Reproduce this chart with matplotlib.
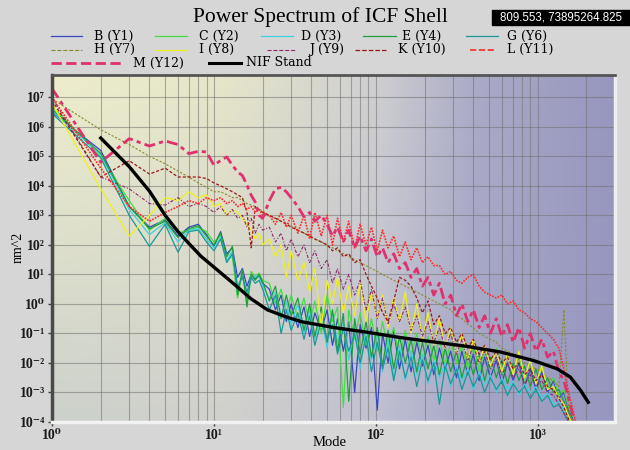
import numpy as np
import matplotlib
matplotlib.use("Agg")
import matplotlib.pyplot as plt
from matplotlib.lines import Line2D
from matplotlib.patches import Rectangle
from matplotlib.ticker import FixedLocator, FuncFormatter, LogLocator, NullFormatter

modes = list(range(1, 21)) + [
    22, 24, 26, 28, 30, 33, 36, 39, 42, 46,
    50, 54, 58, 63, 68, 74, 80, 87, 94, 102,
    110, 119, 129, 140, 152, 165, 179, 194, 210, 228,
    247, 268, 290, 315, 340, 370, 400, 435, 470, 510,
    555, 600, 650, 705, 765, 830, 900, 975, 1060, 1150,
    1250, 1350, 1450, 1550, 1650, 1750, 1850]

# exponents (log10 of nm^2)
b_exp = [6.5, 5.2, 3.3, 2.6, 2.85, 2.3, 2.6, 2.7, 2.35, 1.95,
         2.45, 1.7, 1.9, 0.9, 1.2, 0.6, 1.0, 0.85, 0.95, 0.7,
         0.5, -0.2, 0.3, -0.6, 0.0, -0.8, -0.1, -1.1, -0.3, -0.9,
         -0.2, -1.4, -0.5, -1.6, -0.6, -3.0, -0.7, -1.5, -0.8, -3.6,
         -1.0, -2.0, -0.9, -2.2, -1.2, -2.3, -1.3, -2.1, -1.4, -2.4,
         -1.5, -2.2, -1.6, -2.5, -1.6, -2.4, -1.7, -2.6, -1.8, -2.5,
         -1.9, -2.7, -2.0, -2.6, -2.0, -2.8, -2.2, -2.9, -2.3, -3.0,
         -2.6, -3.2, -3.0, -3.6, -3.9, -4.3, -4.8]
c_exp = [6.7, 5.0, 3.5, 2.5, 2.9, 2.4, 2.5, 2.6, 2.45, 2.1,
         2.3, 1.5, 1.6, 0.2, 1.1, 0.0, 1.1, 0.9, 1.05, 0.8,
         0.7, 0.0, 0.5, -0.3, 0.3, -0.5, 0.2, -0.7, 0.1, -1.0,
         0.3, -0.6, -0.1, -3.5, -0.2, -1.2, -0.3, -1.4, -0.5, -1.6,
         -0.6, -1.5, -0.8, -1.9, -0.9, -1.8, -1.0, -2.0, -1.1, -1.9,
         -1.2, -2.1, -1.3, -2.0, -1.4, -2.2, -1.4, -2.3, -1.5, -2.2,
         -1.5, -2.4, -1.7, -2.3, -1.8, -2.6, -1.9, -2.7, -2.1, -2.9,
         -2.5, -3.1, -2.9, -3.5, -3.8, -4.2, -4.7]
d_exp = [6.55, 5.05, 3.2, 2.35, 2.75, 2.1, 2.5, 2.55, 2.2, 1.9,
         2.25, 1.45, 1.8, 0.5, 1.0, 0.3, 0.8, 0.95, 0.9, 0.6,
         0.2, 0.4, -0.4, 0.1, -0.7, 0.0, -1.0, -0.2, -1.2, -0.4,
         -1.5, -0.3, -1.3, -0.6, -1.9, -0.8, -2.2, -0.9, -1.9, -1.0,
         -2.3, -1.2, -2.5, -1.4, -2.6, -1.6, -2.4, -1.7, -2.7, -1.9,
         -2.5, -2.0, -2.8, -2.1, -2.6, -2.2, -2.9, -2.3, -2.7, -2.4,
         -3.0, -2.5, -2.9, -2.6, -3.1, -2.7, -3.0, -2.8, -3.2, -3.0,
         -3.4, -3.3, -3.6, -3.9, -4.2, -4.6, -5.0]
e_exp = [6.6, 5.1, 3.3, 2.55, 2.8, 2.25, 2.55, 2.65, 2.3, 2.0,
         2.4, 1.6, 1.95, 0.3, 1.15, -0.1, 1.0, 0.8, 1.0, 0.75,
         0.1, 0.6, -0.5, 0.3, -0.4, 0.2, -0.9, 0.0, -1.1, -0.1,
         -1.3, -0.2, -1.6, -0.3, -3.3, -0.5, -1.7, -0.6, -1.8, -0.8,
         -2.1, -0.9, -2.2, -1.1, -2.0, -1.2, -2.3, -1.3, -2.2, -1.4,
         -2.4, -1.5, -2.3, -1.6, -2.5, -1.7, -2.4, -1.7, -2.6, -1.8,
         -2.5, -1.9, -2.7, -2.0, -2.6, -2.1, -2.8, -2.2, -2.9, -2.5,
         -3.0, -2.9, -3.3, -3.7, -4.0, -4.4, -4.9]
g_exp = [6.45, 4.95, 3.0, 1.95, 2.7, 1.75, 2.45, 2.5, 2.1, 1.8,
         2.2, 1.4, 1.7, 0.6, 0.9, 0.4, 0.9, 0.7, 0.8, 0.5,
         -0.2, 0.3, -1.0, -0.2, -0.9, -0.3, -1.2, -0.4, -1.4, -0.6,
         -1.2, -0.7, -1.7, -0.8, -1.6, -1.0, -2.0, -1.1, -2.3, -1.3,
         -2.2, -1.5, -2.6, -1.6, -2.5, -1.8, -2.8, -1.9, -2.6, -2.0,
         -3.4, -2.1, -2.7, -2.2, -2.9, -2.3, -2.8, -2.4, -3.0, -2.5,
         -2.9, -2.6, -3.1, -2.7, -3.0, -2.8, -3.2, -2.9, -3.3, -3.1,
         -3.5, -3.4, -3.7, -4.0, -4.3, -4.7, -5.1]
h_exp = [6.95, 5.9, 5.4, 5.0, 4.75, 4.5, 4.3, 4.1, 3.95, 3.8,
         3.8, 3.7, 3.6, 3.6, 3.5, 3.4, 3.35, 3.3, 3.2, 3.15,
         3.0, 2.9, 2.8, 2.75, 2.65, 2.5, 2.4, 2.3, 2.2, 2.1,
         2.0, 1.9, 1.8, 1.7, 1.6, 1.5, 1.4, 1.3, 1.2, 1.1,
         1.0, 0.9, 0.8, 0.7, 0.6, 0.5, 0.4, 0.3, 0.2, 0.1,
         0.0, -0.1, -0.2, -0.4, -0.5, -0.7, -0.8, -1.0, -1.1, -1.2,
         -1.3, -1.5, -1.6, -1.7, -1.9, -2.0, -2.1, -2.2, -2.3, -2.5,
         -2.6, -2.8, -0.2, -3.6, -4.0, -4.4, -4.9]
i_exp = [6.8, 3.9, 2.3, 3.0, 3.6, 3.5, 3.8, 3.6, 3.7, 3.3,
         3.4, 3.0, 3.2, 3.1, 2.9, 2.7, 2.5, 2.2, 2.4, 2.0,
         2.2, 1.6, 2.0, 0.9, 1.8, 0.8, 1.4, 0.4, 1.2, -0.8,
         0.8, 0.0, 0.9, -0.3, 0.6, -0.4, 0.7, -0.6, 0.4, -0.5,
         0.3, -0.8, 0.2, -0.6, 0.4, -1.0, 0.0, -1.2, -0.3, -1.4,
         -0.5, -1.5, -0.8, -1.7, -1.0, -1.9, -1.2, -2.0, -1.4, -2.1,
         -1.6, -2.3, -1.7, -2.4, -1.6, -2.5, -1.9, -2.7, -2.1, -2.9,
         -2.8, -3.2, -3.4, -3.8, -4.1, -4.5, -5.0]
j_exp = [7.0, 4.3, 3.9, 3.4, 3.35, 3.6, 3.3, 3.4, 3.3, 3.1,
         3.3, 3.0, 3.2, 2.9, 3.0, 2.6, 2.9, 2.4, 2.7, 2.5,
         2.6, 2.1, 2.4, 1.8, 2.2, 1.6, 2.0, 1.4, 1.8, 1.2,
         1.5, 0.7, 1.2, 0.5, 1.0, 0.3, 0.8, -0.2, 0.5, -0.5,
         0.2, -0.7, 0.0, -0.6, -0.1, -0.9, -0.4, -1.1, -0.6, -1.3,
         -0.8, -1.5, -1.0, -1.7, -1.2, -1.9, -1.4, -2.0, -1.6, -2.2,
         -1.8, -2.4, -2.0, -2.5, -2.2, -2.7, -2.4, -2.8, -2.6, -3.0,
         -3.1, -3.4, -3.7, -4.0, -4.3, -4.7, -5.1]
k_exp = [6.9, 4.3, 4.85, 4.4, 4.6, 4.3, 4.3, 4.3, 4.25, 4.1,
         4.0, 3.9, 3.8, 3.7, 3.6, 3.1, 1.9, 3.3, 3.2, 3.1,
         3.0, 2.9, 2.8, 2.7, 2.6, 2.5, 2.4, 2.3, 2.2, 2.1,
         2.0, 1.8, 1.9, 1.6, 1.7, 1.4, 1.5, 1.0, 0.6, 0.2,
         -0.3, -0.6, 0.1, 0.9, 0.8, 0.6, 0.2, -0.3, 0.1, -0.7,
         -0.4, -1.0, -0.8, -1.3, -1.0, -1.5, -1.2, -1.7, -1.4, -1.9,
         -1.6, -2.0, -1.8, -2.2, -2.0, -2.4, -2.2, -2.6, -2.4, -2.8,
         -2.9, -3.2, -3.5, -3.9, -4.2, -4.6, -5.0]
l_exp = [7.0, 4.6, 3.3, 2.8, 3.1, 3.3, 3.5, 3.4, 3.6, 3.5,
         3.6, 3.4, 3.5, 3.3, 3.4, 3.2, 3.3, 3.1, 3.2, 3.0,
         3.0, 2.7, 3.1, 2.6, 3.0, 2.4, 3.0, 2.2, 3.1, 2.3,
         3.0, 2.0, 2.9, 2.1, 2.8, 1.9, 2.7, 2.0, 2.6, 1.8,
         2.5, 1.9, 2.3, 1.6, 2.1, 1.5, 1.9, 1.4, 1.6, 1.3,
         1.3, 1.0, 1.1, 0.8, 0.7, 0.9, 1.0, 0.6, 0.4, 0.3,
         0.2, 0.3, 0.0, 0.1, -0.2, -0.3, -0.5, -0.6, -0.8, -1.0,
         -1.2, -1.5, -2.2, -3.0, -3.6, -4.2, -4.8]
m_exp = [7.3, 4.8, 5.6, 5.35, 5.52, 5.4, 5.09, 5.17, 5.15, 4.7,
         4.86, 4.98, 4.7, 4.47, 4.35, 4.02, 3.68, 3.45, 3.0, 2.9,
         3.5, 3.9, 3.95, 3.8, 3.6, 3.3, 2.95, 3.1, 2.8, 3.0,
         2.7, 2.3, 2.6, 2.1, 2.5, 1.9, 2.3, 1.8, 2.2, 1.6,
         1.9, 1.4, 1.7, 1.2, 1.4, 0.9, 1.2, 0.6, 0.9, 0.3,
         0.7, 0.0, 0.3, -0.4, 0.0, -0.6, -0.2, -0.8, -0.4, -1.0,
         -0.5, -1.1, -0.7, -1.3, -0.8, -1.5, -1.0, -1.6, -1.2, -1.8,
         -1.6, -2.3, -2.6, -3.2, -3.8, -4.3, -4.8]

# NIF standard (smooth reference curve)
nif_modes = [2, 3, 4, 5, 6, 7, 8.3, 10.5, 13.2, 16.9, 21.4, 27.3, 34.6,
             55, 88.6, 142, 229, 367, 590, 945, 1320, 1590, 1840, 2050]
nif_exp = [5.62, 4.65, 3.82, 3.0, 2.45, 2.05, 1.62, 1.15, 0.69, 0.18, -0.2,
           -0.42, -0.6, -0.8, -0.96, -1.14, -1.29, -1.44, -1.63, -1.92,
           -2.2, -2.48, -2.93, -3.33]

series = [
    ("B (Y1)", b_exp, dict(color="#3a48c0", lw=0.9, ls="-")),
    ("C (Y2)", c_exp, dict(color="#46dc46", lw=0.9, ls="-")),
    ("D (Y3)", d_exp, dict(color="#44d0e0", lw=0.9, ls="-")),
    ("E (Y4)", e_exp, dict(color="#1e9e3c", lw=0.9, ls="-")),
    ("G (Y6)", g_exp, dict(color="#1a9898", lw=0.9, ls="-")),
    ("H (Y7)", h_exp, dict(color="#8a8a2a", lw=0.8, ls=(0, (2, 1.5)))),
    ("I (Y8)", i_exp, dict(color="#f0f020", lw=0.9, ls="-")),
    ("J (Y9)", j_exp, dict(color="#8a2a6a", lw=0.8, ls=(0, (3, 1.5, 1, 1.5)))),
    ("K (Y10)", k_exp, dict(color="#9a1818", lw=0.9, ls=(0, (2.5, 1.5)))),
    ("L (Y11)", l_exp, dict(color="#ff2a2a", lw=1.2, ls=(0, (1, 0.8)))),
    ("M (Y12)", m_exp, dict(color="#e0306e", lw=2.0, ls=(0, (4, 1.5, 1.5, 1.5)))),
]

fig = plt.figure(figsize=(6.3, 4.5), dpi=100)
fig.patch.set_facecolor("#d6d6d6")
W, H = 630.0, 450.0
ax = fig.add_axes([52 / W, 1 - 422 / H, (615 - 52) / W, (422 - 75) / H])

# background gradient: pale yellow on the left, lavender on the right
nx, ny = 200, 60
u = np.linspace(0, 1, nx)
stops = [0, 0.3, 0.58, 0.75, 1]
top = np.stack([np.interp(u, stops, [.93, .90, .81, .67, .59]),
                np.interp(u, stops, [.93, .90, .81, .67, .59]),
                np.interp(u, stops, [.80, .79, .82, .78, .75])], axis=-1)
bot = np.stack([np.interp(u, stops, [.80, .82, .75, .65, .59]),
                np.interp(u, stops, [.82, .82, .75, .65, .59]),
                np.interp(u, stops, [.80, .80, .82, .78, .75])], axis=-1)
w = np.linspace(1, 0, ny)[:, None, None]
grad = w * top[None] + (1 - w) * bot[None]
ax.imshow(grad, extent=[0, 1, 0, 1], transform=ax.transAxes, aspect="auto", zorder=0)

for label, ex, st in series:
    ax.plot(modes, 10.0 ** np.array(ex), label=label, zorder=2, **st)
ax.plot(nif_modes, 10.0 ** np.array(nif_exp), color="black", lw=2.4, zorder=3,
        label="NIF Stand")

ax.set_xscale("log")
ax.set_yscale("log")
ax.set_xlim(1, 3000)
ax.set_ylim(1e-4, 5.7e7)

SUP = str.maketrans("-0123456789", "⁻⁰¹²³⁴⁵⁶⁷⁸⁹")
def sup_fmt(v, pos):
    return "10" + str(int(round(np.log10(v)))).translate(SUP)

ax.xaxis.set_major_locator(FixedLocator([1, 10, 100, 1000]))
ax.xaxis.set_minor_locator(LogLocator(base=10, subs=np.arange(2, 10)))
ax.xaxis.set_minor_formatter(NullFormatter())
ax.yaxis.set_major_locator(FixedLocator([10.0 ** k for k in range(-4, 8)]))
ax.yaxis.set_minor_locator(FixedLocator([]))
ax.xaxis.set_major_formatter(FuncFormatter(sup_fmt))
ax.yaxis.set_major_formatter(FuncFormatter(sup_fmt))

ax.tick_params(axis="both", which="major", length=3, width=1, color="#404040",
               labelcolor="#1a1a1a", pad=2)
ax.tick_params(axis="x", which="minor", length=0)
for t in ax.get_xticklabels() + ax.get_yticklabels():
    t.set_family(["Liberation Serif", "DejaVu Serif"])
    t.set_size(10)
    t.set_weight("bold")

ax.grid(True, axis="x", which="both", color="#707070", lw=0.8, alpha=0.55)
ax.grid(True, axis="y", which="major", color="#707070", lw=0.8, alpha=0.55)

ax.spines["left"].set_color("#4a4a4a")
ax.spines["left"].set_linewidth(2.5)
ax.spines["top"].set_color("#555555")
ax.spines["top"].set_linewidth(2.0)
ax.spines["bottom"].set_color("#f2f2f2")
ax.spines["bottom"].set_linewidth(2.5)
ax.spines["right"].set_color("#eeeeee")
ax.spines["right"].set_linewidth(2.5)

serif = ["Liberation Serif", "DejaVu Serif"]
wide_serif = ["DejaVu Serif"]
fig.text(18 / W, 1 - 247 / H, "nm^2", rotation=90, ha="center", va="center",
         family=serif, fontsize=10)
fig.text(330 / W, 1 - 442 / H, "Mode", ha="center", va="center",
         family=serif, fontsize=10.5)
fig.text(320 / W, 1 - 17 / H, "Power Spectrum of ICF Shell", ha="center",
         va="center", family=serif, fontsize=15.5)

# cursor readout box in the top right corner
fig.add_artist(Rectangle((492 / W, 1 - 25 / H), 138 / W, 15 / H,
                         transform=fig.transFigure, color="black", zorder=5))
fig.text(561 / W, 1 - 17.5 / H, "809.553, 73895264.825", ha="center", va="center",
         color="white", family=["Liberation Sans", "DejaVu Sans"], fontsize=8.3,
         zorder=6)

# legend drawn by hand, laid out as in the original window
handles = {h.get_label(): h for h in ax.get_lines()}
r1, r2, r3 = 36, 49.5, 63
legend_layout = [
    ("B (Y1)", 51, 82, 94, r1), ("C (Y2)", 155, 187, 199, r1),
    ("D (Y3)", 261, 293, 301, r1), ("E (Y4)", 363, 396, 402, r1),
    ("G (Y6)", 466, 498, 507, r1),
    ("H (Y7)", 51, 82, 94, r2), ("I (Y8)", 155, 187, 199, r2),
    ("J (Y9)", 267, 295, 309, r2), ("K (Y10)", 355, 386, 398, r2),
    ("L (Y11)", 470, 496, 507, r2),
    ("M (Y12)", 51, 122, 133, r3), ("NIF Stand", 209, 241, 246, r3),
]
for name, x0, x1, tx, y in legend_layout:
    h = handles[name]
    lw = 2.2 if name == "NIF Stand" else min(h.get_linewidth(), 2.0)
    fig.add_artist(Line2D([x0 / W, x1 / W], [1 - y / H, 1 - y / H],
                          transform=fig.transFigure, color=h.get_color(),
                          lw=lw, ls=h.get_linestyle()))
    fig.text(tx / W, 1 - y / H, name, ha="left", va="center", family=wide_serif,
             fontsize=9)

fig.savefig("out.png", dpi=100, facecolor=fig.get_facecolor())
